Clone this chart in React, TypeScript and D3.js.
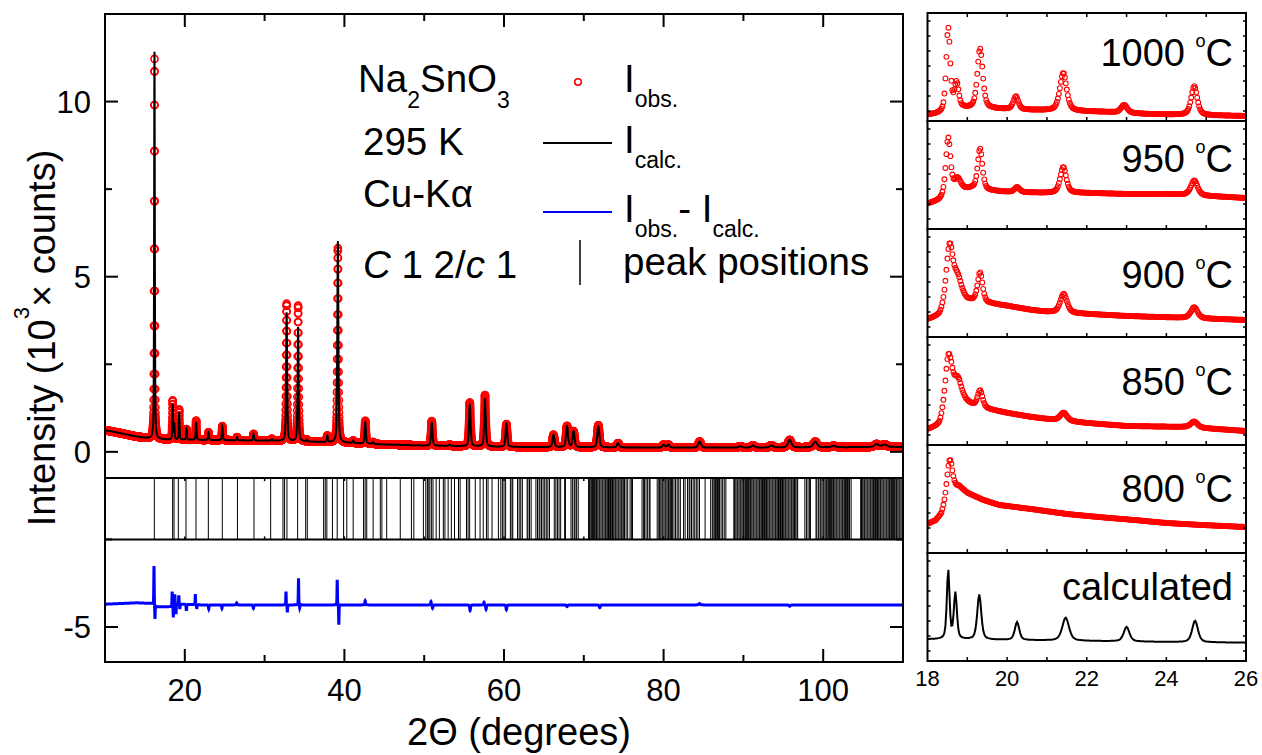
import React from "react";
import * as d3 from "d3";

const FONT = "'Liberation Sans', Arial, Helvetica, sans-serif";
const RED = "#ff0000";
const BLUE = "#0000ff";

// ---------------- main refinement pattern (2θ 10–110°) ----------------
const xTicksMain = [20, 40, 60, 80, 100];
const xMinorMain = [10, 30, 50, 70, 90, 110];
const yTicksMain = [-5, 0, 5, 10];
const yMinorMain = [-2.5, 2.5, 7.5];

// background (10^3 counts)
const bgKnotPos = [10, 12, 14, 16, 18, 22, 26, 30, 34, 40, 45, 50, 55, 60, 70, 80, 90, 100, 110];
const bgKnotVal = [0.62, 0.53, 0.43, 0.37, 0.35, 0.34, 0.33, 0.32, 0.3, 0.26, 0.21, 0.18, 0.16, 0.14, 0.13, 0.12, 0.12, 0.13, 0.14];

// Bragg peaks: position, calculated height, observed height, FWHM
const peakPos = [16.2, 18.48, 18.68, 19.3, 20.22, 21.42, 22.97, 24.7, 26.55, 28.62, 30.9, 32.76, 34.2, 35.3, 37.86, 39.18, 41.1, 42.62, 43.6, 50.95, 53.2, 55.72, 57.62, 60.3, 66.2, 67.9, 68.72, 71.82, 74.3, 80.0, 80.6, 84.52, 89.6, 91.2, 93.5, 95.8, 99.0, 101.3, 106.7, 107.7];
const peakCalc = [11.05, 1.0, 0.45, 0.78, 0.3, 0.52, 0.22, 0.39, 0.09, 0.19, 0.05, 3.67, 3.26, 0.05, 0.18, 5.75, 0.07, 0.6, 0.05, 0.65, 0.04, 1.18, 1.33, 0.67, 0.35, 0.6, 0.45, 0.6, 0.12, 0.08, 0.08, 0.17, 0.04, 0.06, 0.06, 0.21, 0.16, 0.04, 0.08, 0.07];
const peakObs = [10.85, 1.1, 0.5, 0.86, 0.3, 0.55, 0.22, 0.4, 0.09, 0.19, 0.05, 3.92, 3.87, 0.05, 0.18, 5.55, 0.07, 0.65, 0.05, 0.7, 0.04, 1.25, 1.47, 0.65, 0.35, 0.6, 0.45, 0.63, 0.12, 0.08, 0.08, 0.17, 0.04, 0.06, 0.06, 0.21, 0.16, 0.04, 0.08, 0.07];
const peakFwhm = [0.1, 0.11, 0.11, 0.11, 0.12, 0.13, 0.13, 0.13, 0.14, 0.14, 0.15, 0.15, 0.15, 0.16, 0.16, 0.16, 0.17, 0.18, 0.18, 0.21, 0.21, 0.23, 0.23, 0.25, 0.28, 0.29, 0.29, 0.31, 0.33, 0.37, 0.37, 0.41, 0.46, 0.47, 0.49, 0.51, 0.56, 0.59, 0.66, 0.67];

// difference curve (offset level and residual spikes)
const diffBasePos = [10, 14, 15.9, 16.5, 18.3, 18.9, 22, 40, 110];
const diffBaseVal = [-4.35, -4.31, -4.33, -4.42, -4.42, -4.34, -4.37, -4.37, -4.37];
const diffPos = [16.14, 16.26, 18.42, 18.56, 18.75, 18.9, 19.25, 19.38, 20.2, 21.32, 21.5, 23.0, 24.65, 26.5, 28.6, 32.68, 32.85, 34.25, 34.4, 39.1, 39.3, 42.6, 50.85, 51.05, 55.75, 57.5, 57.75, 60.3, 67.9, 72.0, 84.5, 95.8];
const diffAmp = [1.12, -0.42, 0.42, -0.35, 0.3, -0.3, 0.25, -0.15, -0.18, 0.3, -0.12, -0.12, -0.1, 0.06, -0.1, 0.38, -0.22, 0.76, -0.1, 0.72, -0.57, 0.12, 0.1, -0.1, -0.16, 0.08, -0.13, -0.14, -0.05, -0.08, 0.04, -0.04];
const diffWidth = [0.06, 0.06, 0.06, 0.06, 0.06, 0.06, 0.06, 0.06, 0.08, 0.06, 0.06, 0.08, 0.08, 0.1, 0.1, 0.06, 0.06, 0.06, 0.06, 0.06, 0.06, 0.1, 0.1, 0.1, 0.12, 0.1, 0.1, 0.12, 0.15, 0.15, 0.2, 0.2];

// calculated Bragg reflection positions (2θ)
const reflections = [
  16.18, 18.48, 18.65, 19.19, 20.15, 21.4, 22.95, 24.7, 26.6, 28.67, 30.76, 32.3, 32.5, 32.8, 34.14, 35.15, 35.35,
  37.4, 37.6, 37.8, 38.5, 39.1, 39.9, 40.3, 41.1, 42.4, 42.6, 42.8, 43.6, 44.5, 44.7, 45.3, 47.0, 48.4, 48.7, 49.9,
  50.2, 50.4, 50.5, 50.7, 50.9, 51.1, 51.5, 51.9, 52.4, 52.6, 53.0, 53.4, 53.8, 54.3, 54.5, 55.3, 55.5, 55.7, 56.4,
  57.0, 57.4, 57.8, 58.0, 58.5, 59.3, 59.6, 59.8, 60.0, 60.2, 60.8, 61.0, 61.1, 61.7, 61.9, 62.1, 62.3, 62.9, 63.0,
  63.2, 63.4, 64.0, 64.2, 64.4, 64.5, 64.7, 64.9, 65.1, 65.3, 65.5, 65.7, 66.3, 66.5, 66.7, 66.9, 67.1, 67.6, 67.7,
  68.4, 68.6, 68.8, 68.9, 69.1, 69.3, 70.6, 70.7, 70.8, 70.95, 71.1, 71.2, 71.35, 71.5, 71.6, 71.75, 71.9, 72.0,
  72.15, 72.3, 72.4, 72.55, 72.7, 72.8, 72.95, 73.1, 73.2, 73.35, 73.5, 73.6, 73.75, 73.9, 74.0, 74.15, 74.3, 74.4,
  74.55, 74.7, 74.8, 74.95, 75.1, 75.3, 75.5, 75.8, 76.0, 76.1, 77.3, 77.5, 77.6, 77.8, 78.0, 78.2, 78.3, 79.2,
  79.4, 79.5, 79.65, 79.8, 79.9, 80.05, 80.2, 80.3, 80.45, 80.6, 80.7, 80.85, 81.0, 81.1, 81.3, 81.5, 81.7, 81.9,
  82.1, 82.5, 82.7, 83.0, 83.2, 83.3, 83.5, 83.7, 83.9, 84.1, 84.3, 84.5, 85.2, 85.9, 86.1, 86.2, 86.35, 86.5,
  86.6, 86.75, 86.9, 87.0, 87.2, 87.4, 87.6, 87.8, 88.8, 88.9, 89.05, 89.2, 89.3, 89.45, 89.6, 89.7, 89.85, 90.0,
  90.1, 90.25, 90.4, 90.5, 90.65, 90.8, 90.9, 91.05, 91.2, 91.3, 91.45, 91.6, 91.7, 91.85, 92.0, 92.1, 92.25, 92.4,
  92.5, 92.65, 92.8, 92.9, 93.05, 93.2, 93.3, 93.45, 93.6, 93.7, 93.85, 94.0, 94.1, 94.25, 94.4, 94.5, 94.65, 94.8,
  94.9, 95.05, 95.2, 95.3, 95.45, 95.6, 95.7, 95.85, 96.0, 96.1, 96.25, 96.4, 96.5, 96.7, 96.8, 97.7, 97.9, 98.1,
  98.3, 98.4, 99.1, 99.2, 99.4, 99.6, 99.7, 99.85, 100.0, 100.1, 100.25, 100.4, 100.5, 100.65, 100.8, 100.9, 101.05,
  101.2, 101.3, 101.45, 101.6, 101.7, 101.85, 102.0, 102.1, 102.25, 102.4, 102.5, 102.65, 102.8, 102.9, 103.05,
  103.2, 103.3, 103.5, 104.7, 104.8, 104.95, 105.1, 105.2, 105.35, 105.5, 105.6, 105.75, 105.9, 106.0, 106.15,
  106.3, 106.4, 106.55, 106.7, 106.8, 106.95, 107.1, 107.2, 107.35, 107.5, 107.6, 107.75, 107.9, 108.0, 108.15,
  108.3, 108.4, 108.55, 108.7, 108.8, 108.95, 109.1, 109.2, 109.35, 109.5, 109.6, 109.75, 109.9,
];

// ---------------- in-situ panels (2θ 18–26°, arbitrary units) ----------------
const insetLabels = ["1000", "950", "900", "850", "800", "calculated"];
const xTicksInset = [18, 20, 22, 24, 26];
const xMinorInset = [19, 20, 21, 22, 23, 24, 25];
const yTicksInset = [10, 25, 40, 55, 70, 85, 100];

const bg1000 = [[18, 6], [18.4, 7], [18.9, 12], [19.6, 12], [20.5, 11], [21.5, 10], [22.5, 9], [23.5, 7], [24.5, 6], [26, 5]];
const pk1000 = [[18.52, 84, 0.12], [18.73, 26, 0.13], [19.32, 60, 0.16], [20.22, 13, 0.15], [21.41, 38, 0.2], [22.94, 8, 0.18], [24.7, 29, 0.18]];
const bg950 = [[18, 25], [18.3, 28], [18.5, 33], [18.8, 38], [19.1, 40], [19.6, 38], [20, 37], [21, 36], [22, 36], [23, 35], [24, 35], [25, 33], [26, 31]];
const pk950 = [[18.52, 57, 0.14], [18.75, 12, 0.2], [19.32, 41, 0.14], [20.25, 5, 0.15], [21.41, 26, 0.18], [24.7, 15, 0.2]];
const bg900 = [[18, 17], [18.3, 20], [18.45, 27], [18.6, 38], [18.8, 40], [19.0, 36], [19.3, 34], [19.6, 33], [20, 31], [20.6, 27], [21, 25], [22, 23], [23, 21], [24.5, 19], [26, 17]];
const pk900 = [[18.55, 56, 0.2], [18.75, 18, 0.22], [19.32, 30, 0.15], [21.42, 19, 0.2], [24.7, 11, 0.2]];
const bg850 = [[18, 15], [18.3, 18], [18.45, 26], [18.6, 44], [18.8, 48], [19.0, 42], [19.2, 38], [19.6, 35], [20, 32], [20.6, 28], [21, 26], [22, 22], [23, 19], [24.5, 18], [26, 14]];
const pk850 = [[18.52, 54, 0.2], [18.75, 17, 0.22], [19.32, 17, 0.15], [21.42, 8, 0.2], [24.7, 6, 0.2]];
const bg800 = [[18, 29], [18.2, 32], [18.35, 38], [18.45, 48], [18.6, 64], [18.8, 66], [19.0, 60], [19.4, 53], [19.8, 48], [20.6, 44], [21.5, 39], [22.3, 36], [23.2, 33], [24, 30], [24.9, 28], [26, 26]];
const pk800 = [[18.55, 34, 0.16]];
const bgCalc = [[18, 21.7], [20, 21], [22, 20], [24, 19], [26, 18.3]];
const pkCalc = [[18.52, 69, 0.08], [18.7, 46, 0.09], [19.3, 45, 0.12], [20.25, 18, 0.13], [21.47, 23, 0.2], [23.0, 14.5, 0.17], [24.72, 21.5, 0.17]];

const insetBg = [bg1000, bg950, bg900, bg850, bg800, bgCalc];
const insetPk = [pk1000, pk950, pk900, pk850, pk800, pkCalc];

// ---------------- helpers ----------------
function pv(x: number, x0: number, h: number, w: number) {
  const t = (x - x0) / (w / 2);
  return h * (0.5 / (1 + t * t) + 0.5 * Math.exp(-Math.LN2 * t * t));
}

// layout
const M = { left: 105, right: 903, top: 14, bottom: 662 };
const R = { left: 927.5, right: 1246, top: 13, bottom: 661 };

export default function App() {
  const x = d3.scaleLinear().domain([10, 110]).range([M.left, M.right]);
  const y = d3.scaleLinear().domain([-6, 12.5]).range([M.bottom, M.top]);
  const bg = d3.scaleLinear().domain(bgKnotPos).range(bgKnotVal);
  const dBase = d3.scaleLinear().domain(diffBasePos).range(diffBaseVal);

  const grid = d3.range(10, 110.0001, 0.01);
  const profile = (t: number, hs: number[]) => {
    let v = bg(t);
    for (let i = 0; i < peakPos.length; i++) if (Math.abs(t - peakPos[i]) < 6) v += pv(t, peakPos[i], hs[i], peakFwhm[i]);
    return v;
  };
  const calc = grid.map((t) => [t, profile(t, peakCalc)] as [number, number]);
  const obs = grid.map((t) => [t, profile(t, peakObs)] as [number, number]);
  const diff = grid.map((t) => {
    let v = dBase(t);
    for (let i = 0; i < diffPos.length; i++) if (Math.abs(t - diffPos[i]) < 2) v += pv(t, diffPos[i], diffAmp[i], diffWidth[i]);
    return [t, v] as [number, number];
  });
  const line = d3.line<[number, number]>().x((d) => x(d[0])).y((d) => y(d[1]));

  const bandTop = y(-0.75);
  const bandBot = y(-2.5);

  // inset panels
  const ix = d3.scaleLinear().domain([18, 26]).range([R.left, R.right]);
  const ph = (R.bottom - R.top) / 6;
  const igrid = d3.range(18, 26.0001, 0.025);
  const labelBase = [66, 172, 288, 395, 502, 600];

  const fsTick = 31;
  const fsLeg = 38.5;
  const fsSub = 23;

  return (
    <svg width={1262} height={755} style={{ display: "block", position: "absolute", left: 0, top: 0, background: "#fff" }} fontFamily={FONT}>
      <defs>
        <clipPath id="mainclip">
          <rect x={M.left} y={M.top} width={M.right - M.left} height={M.bottom - M.top} />
        </clipPath>
        {insetLabels.map((_, k) => (
          <clipPath id={"ic" + k} key={k}>
            <rect x={R.left} y={R.top + k * ph} width={R.right - R.left} height={ph} />
          </clipPath>
        ))}
      </defs>

      {/* ---------- main panel ---------- */}
      <g clipPath="url(#mainclip)">
        <g fill="none" stroke={RED} strokeWidth={1.6}>
          {obs.map((d, i) => (
            <circle key={i} cx={x(d[0])} cy={y(d[1])} r={3.5} />
          ))}
        </g>
        <path d={line(calc) || ""} fill="none" stroke="#000" strokeWidth={2} />
        <path d={line(diff) || ""} fill="none" stroke={BLUE} strokeWidth={3} />
        <g stroke="#000" strokeWidth={1}>
          {reflections.map((r, i) => (
            <line key={i} x1={x(r)} x2={x(r)} y1={bandTop} y2={bandBot} />
          ))}
        </g>
      </g>
      {/* separators */}
      <line x1={M.left} x2={M.right} y1={bandTop} y2={bandTop} stroke="#000" strokeWidth={2} />
      <line x1={M.left} x2={M.right} y1={bandBot} y2={bandBot} stroke="#000" strokeWidth={2} />
      {d3.range(20, 110, 10).map((t) => (
        <g key={"bt" + t} stroke="#000" strokeWidth={1.5}>
          <line x1={x(t)} x2={x(t)} y1={bandTop} y2={bandTop + 3} />
          <line x1={x(t)} x2={x(t)} y1={bandBot} y2={bandBot - 3} />
        </g>
      ))}
      {/* frame */}
      <rect x={M.left} y={M.top} width={M.right - M.left} height={M.bottom - M.top} fill="none" stroke="#000" strokeWidth={2} />
      <g stroke="#000" strokeWidth={2}>
        {xTicksMain.map((t) => (
          <g key={"xt" + t}>
            <line x1={x(t)} x2={x(t)} y1={M.bottom} y2={M.bottom - 13} />
            <line x1={x(t)} x2={x(t)} y1={M.top} y2={M.top + 13} />
          </g>
        ))}
        {xMinorMain.map((t) => (
          <g key={"xm" + t}>
            <line x1={x(t)} x2={x(t)} y1={M.bottom} y2={M.bottom - 7} />
            <line x1={x(t)} x2={x(t)} y1={M.top} y2={M.top + 7} />
          </g>
        ))}
        {yTicksMain.map((t) => (
          <g key={"yt" + t}>
            <line x1={M.left} x2={M.left + 13} y1={y(t)} y2={y(t)} />
            <line x1={M.right} x2={M.right - 13} y1={y(t)} y2={y(t)} />
          </g>
        ))}
        {yMinorMain.map((t) => (
          <g key={"ym" + t}>
            <line x1={M.left} x2={M.left + 7} y1={y(t)} y2={y(t)} />
            <line x1={M.right} x2={M.right - 7} y1={y(t)} y2={y(t)} />
          </g>
        ))}
      </g>
      <g fontSize={fsTick} fill="#000">
        {xTicksMain.map((t) => (
          <text key={"xl" + t} x={x(t)} y={701} textAnchor="middle">{t}</text>
        ))}
        {yTicksMain.map((t) => (
          <text key={"yl" + t} x={91} y={y(t) + 11} textAnchor="end">{t < 0 ? "-" + Math.abs(t) : t}</text>
        ))}
      </g>
      <text x={519} y={745} fontSize={38} textAnchor="middle">2Θ (degrees)</text>
      <text transform={`translate(55,${(M.top + M.bottom) / 2}) rotate(-90)`} fontSize={38} textAnchor="middle">
        Intensity (10<tspan fontSize={22} dy={-26}>3</tspan><tspan dy={26}>× counts)</tspan>
      </text>

      {/* legend / annotations */}
      <g fontSize={fsLeg} fill="#000">
        <text x={358} y={92}>
          Na<tspan fontSize={fsSub} dy={16}>2</tspan><tspan dy={-16}>SnO</tspan><tspan fontSize={fsSub} dy={16}>3</tspan>
        </text>
        <text x={363} y={155}>295 K</text>
        <text x={363} y={207}>Cu-Kα</text>
        <text x={363} y={278}>
          <tspan fontStyle="italic">C</tspan> 1 2/<tspan fontStyle="italic">c</tspan> 1
        </text>
        <circle cx={578} cy={82} r={3.3} fill="none" stroke={RED} strokeWidth={1.6} />
        <text x={624} y={92}>I<tspan fontSize={fsSub} dy={15}>obs.</tspan></text>
        <line x1={543} x2={612} y1={143} y2={143} stroke="#000" strokeWidth={2} />
        <text x={624} y={153}>I<tspan fontSize={fsSub} dy={15}>calc.</tspan></text>
        <line x1={543} x2={612} y1={212} y2={212} stroke={BLUE} strokeWidth={2} />
        <text x={624} y={222}>
          I<tspan fontSize={fsSub} dy={15}>obs.</tspan><tspan dy={-15}>- I</tspan><tspan fontSize={fsSub} dy={15}>calc.</tspan>
        </text>
        <line x1={580} x2={580} y1={240} y2={285} stroke="#000" strokeWidth={1.5} />
        <text x={623} y={275}>peak positions</text>
      </g>

      {/* ---------- in-situ panels ---------- */}
      {insetLabels.map((lab, k) => {
        const top = R.top + k * ph;
        const bot = top + ph;
        const iy = d3.scaleLinear().domain([0, 108]).range([bot, top]);
        const bgs = d3.scaleLinear().domain(insetBg[k].map((d) => d[0])).range(insetBg[k].map((d) => d[1]));
        const pts = igrid.map((t) => {
          let v = bgs(t);
          for (const p of insetPk[k]) v += pv(t, p[0], p[1], p[2]);
          return [t, v] as [number, number];
        });
        const isCalc = lab === "calculated";
        const il = d3.line<[number, number]>().x((d) => ix(d[0])).y((d) => iy(d[1]));
        return (
          <g key={"p" + k}>
            <g clipPath={`url(#ic${k})`}>
              {isCalc ? (
                <path d={il(pts) || ""} fill="none" stroke="#000" strokeWidth={2} />
              ) : (
                <g fill="none" stroke={RED} strokeWidth={1.1}>
                  {pts.map((d, i) => (
                    <circle key={i} cx={ix(d[0])} cy={iy(d[1])} r={2.4} />
                  ))}
                </g>
              )}
            </g>
            <rect x={R.left} y={top} width={R.right - R.left} height={ph} fill="none" stroke="#000" strokeWidth={2} />
            <g stroke="#000" strokeWidth={1.5}>
              {xMinorInset.map((t) => (
                <line key={"b" + t} x1={ix(t)} x2={ix(t)} y1={bot} y2={bot - 4} />
              ))}
              {k === 0 &&
                xMinorInset.map((t) => <line key={"t" + t} x1={ix(t)} x2={ix(t)} y1={top} y2={top + 4} />)}
              {yTicksInset.map((t) => (
                <g key={"y" + t}>
                  <line x1={R.left} x2={R.left + 3} y1={iy(t)} y2={iy(t)} />
                  <line x1={R.right} x2={R.right - 3} y1={iy(t)} y2={iy(t)} />
                </g>
              ))}
            </g>
            {isCalc ? (
              <text x={1233} y={labelBase[k]} fontSize={38} textAnchor="end">calculated</text>
            ) : (
              <text x={1233} y={labelBase[k]} fontSize={38} textAnchor="end">
                {lab} <tspan fontSize={18} dy={-19}>o</tspan><tspan dy={19}>C</tspan>
              </text>
            )}
          </g>
        );
      })}
      <g fontSize={22} fill="#000">
        {xTicksInset.map((t) => (
          <text key={"il" + t} x={ix(t)} y={686} textAnchor="middle">{t}</text>
        ))}
      </g>
    </svg>
  );
}
